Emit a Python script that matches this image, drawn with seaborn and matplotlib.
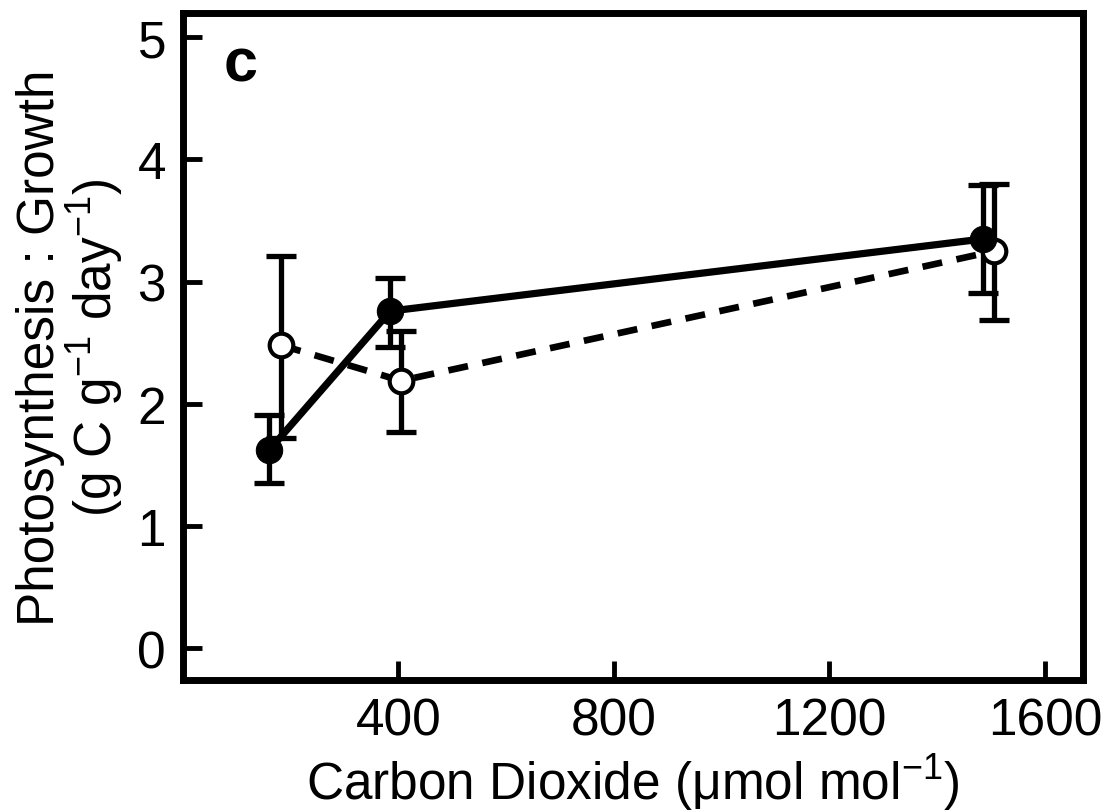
import pandas as pd
import seaborn as sns
import matplotlib.pyplot as plt

# values
co2_filled = [160, 385, 1485]
pg_filled = [1.62, 2.76, 3.35]
err_lo_filled = [0.27, 0.29, 0.44]
err_hi_filled = [0.29, 0.27, 0.44]

co2_open = [183, 405, 1505]
pg_open = [2.48, 2.19, 3.25]
err_lo_open = [0.76, 0.42, 0.56]
err_hi_open = [0.73, 0.41, 0.55]

x_ticks = [400, 800, 1200, 1600]
y_ticks = [0, 1, 2, 3, 4, 5]

sns.set_style('ticks')
plt.rcParams['font.family'] = ['Liberation Sans', 'DejaVu Sans']
plt.rcParams['mathtext.fontset'] = 'custom'
plt.rcParams['mathtext.rm'] = 'Liberation Sans'
plt.rcParams['mathtext.default'] = 'regular'
plt.rcParams['text.color'] = 'black'
plt.rcParams['axes.labelcolor'] = 'black'

df_f = pd.DataFrame({'co2': co2_filled, 'pg': pg_filled})
df_o = pd.DataFrame({'co2': co2_open, 'pg': pg_open})

fig = plt.figure(figsize=(11.14, 8.12), dpi=100)
ax = fig.add_axes([0.164, 0.161, 0.808, 0.822])

# error bars
ax.errorbar(co2_filled, pg_filled, yerr=[err_lo_filled, err_hi_filled], fmt='none',
            ecolor='black', elinewidth=3.8, capsize=11, capthick=3.8, zorder=2)
ax.errorbar(co2_open, pg_open, yerr=[err_lo_open, err_hi_open], fmt='none',
            ecolor='black', elinewidth=3.8, capsize=11, capthick=3.8, zorder=2)

# lines + markers
sns.lineplot(data=df_o, x='co2', y='pg', ax=ax, color='black', linewidth=4.8,
             linestyle=(0, (3, 2.2)), marker='o', markersize=17,
             markerfacecolor='white', markeredgecolor='black', markeredgewidth=3,
             zorder=3)
sns.lineplot(data=df_f, x='co2', y='pg', ax=ax, color='black', linewidth=5.2,
             marker='o', markersize=19, markerfacecolor='black',
             markeredgecolor='black', zorder=4)

ax.set_xlim(0, 1670)
ax.set_ylim(-0.26, 5.2)
ax.set_xticks(x_ticks)
ax.set_yticks(y_ticks)

for s in ax.spines.values():
    s.set_linewidth(5)
    s.set_color('black')
ax.tick_params(direction='in', length=14, width=3.5, labelsize=37, pad=12,
               colors='black')

ax.set_xlabel('Carbon Dioxide (\u03bcmol mol$^{-1}$)', fontsize=37, labelpad=4)
ax.set_ylabel('Photosynthesis : Growth\n(g C g$^{-1}$ day$^{-1}$)', fontsize=37,
              labelpad=8, linespacing=1.0)

ax.text(0.045, 0.922, 'c', transform=ax.transAxes, fontsize=44,
        fontweight='bold', ha='left', va='center')

fig.savefig('out.png', dpi=100)
